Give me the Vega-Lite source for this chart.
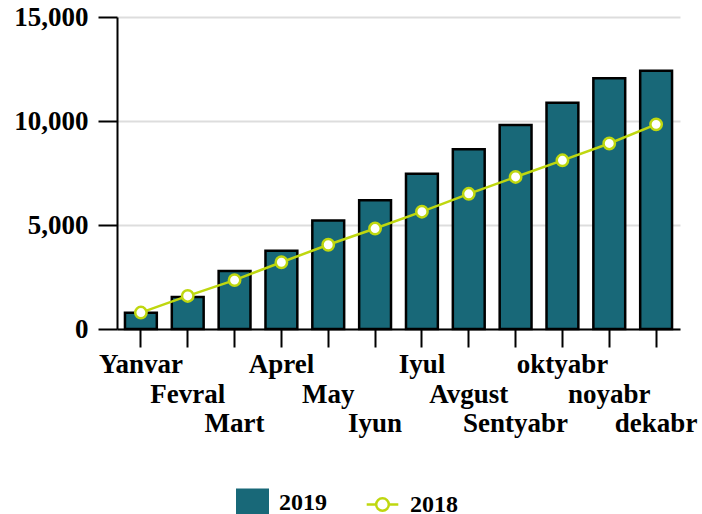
{
  "$schema": "https://vega.github.io/schema/vega-lite/v6.json",
  "autosize": {"type": "none"},
  "width": 563,
  "height": 312,
  "padding": {"left": 117, "top": 17, "right": 22, "bottom": 185},
  "background": "white",
  "config": {
    "view": {"stroke": null},
    "font": "Liberation Serif"
  },
  "data": {
    "values": [
      {"month": "Yanvar", "v2019": 780, "v2018": 790},
      {"month": "Fevral", "v2019": 1540, "v2018": 1590},
      {"month": "Mart", "v2019": 2790, "v2018": 2350},
      {"month": "Aprel", "v2019": 3760, "v2018": 3210},
      {"month": "May", "v2019": 5220, "v2018": 4050},
      {"month": "Iyun", "v2019": 6190, "v2018": 4830},
      {"month": "Iyul", "v2019": 7460, "v2018": 5640},
      {"month": "Avgust", "v2019": 8640, "v2018": 6500},
      {"month": "Sentyabr", "v2019": 9810, "v2018": 7310},
      {"month": "oktyabr", "v2019": 10880, "v2018": 8110},
      {"month": "noyabr", "v2019": 12050, "v2018": 8920},
      {"month": "dekabr", "v2019": 12420, "v2018": 9840}
    ]
  },
  "encoding": {
    "x": {
      "field": "month",
      "type": "nominal",
      "sort": null,
      "scale": {"paddingInner": 0.32, "paddingOuter": 0.17},
      "axis": {
        "title": null,
        "labelAngle": 0,
        "labelFont": "Liberation Serif",
        "labelFontWeight": "bold",
        "labelFontSize": 27,
        "labelColor": "black",
        "labelBaseline": "top",
        "labelPadding": {
          "condition": [
            {"test": "indexof(['Fevral','May','Avgust','noyabr'], datum.value) >= 0", "value": 34},
            {"test": "indexof(['Mart','Iyun','Sentyabr','dekabr'], datum.value) >= 0", "value": 63}
          ],
          "value": 4
        },
        "tickSize": 18,
        "tickWidth": 2,
        "tickColor": "black",
        "domainColor": "black",
        "domainWidth": 2,
        "labelOverlap": false,
        "labelBound": false,
        "labelFlush": false
      }
    }
  },
  "layer": [
    {
      "mark": {"type": "bar", "stroke": "black", "strokeWidth": 2.5},
      "encoding": {
        "y": {
          "field": "v2019",
          "type": "quantitative",
          "scale": {"domain": [0, 15000], "nice": false},
          "axis": {
            "title": null,
            "values": [0, 5000, 10000, 15000],
            "format": ",.0f",
            "labelFont": "Liberation Serif",
            "labelFontWeight": "bold",
            "labelFontSize": 27,
            "labelColor": "black",
            "labelPadding": 10,
            "tickSize": 19,
            "tickWidth": 2,
            "tickColor": "black",
            "domainColor": "black",
            "domainWidth": 2,
            "gridColor": "#dddddd",
            "gridWidth": 2
          }
        },
        "fill": {
          "datum": "2019",
          "type": "nominal",
          "scale": {"domain": ["2019"], "range": ["#186878"]},
          "legend": {
            "title": null,
            "orient": "none",
            "legendX": 119,
            "legendY": 469,
            "padding": 0,
            "symbolType": "M-1,-0.85H1V0.85H-1Z",
            "symbolSize": 1089,
            "symbolStrokeWidth": 0,
            "symbolOpacity": 1,
            "labelFont": "Liberation Serif",
            "labelFontWeight": "bold",
            "labelFontSize": 24,
            "labelColor": "black",
            "labelOffset": 10
          }
        }
      }
    },
    {
      "mark": {"type": "line", "strokeWidth": 2.5},
      "encoding": {
        "y": {"field": "v2018", "type": "quantitative"},
        "stroke": {
          "datum": "2018",
          "type": "nominal",
          "scale": {"domain": ["2018"], "range": ["#bfd70f"]},
          "legend": {
            "title": null,
            "orient": "none",
            "legendX": 248,
            "legendY": 470,
            "padding": 0,
            "symbolType": "M-1,0H-0.4M0.4,0H1M-0.4,0A0.4,0.4 0 1,1 0.4,0A0.4,0.4 0 1,1 -0.4,0Z",
            "symbolSize": 1000,
            "symbolStrokeWidth": 2.5,
            "symbolFillColor": "white",
            "symbolOpacity": 1,
            "labelFont": "Liberation Serif",
            "labelFontWeight": "bold",
            "labelFontSize": 24,
            "labelColor": "black",
            "labelOffset": 10
          }
        }
      }
    },
    {
      "mark": {"type": "point", "filled": true, "fill": "white", "stroke": "#bfd70f", "strokeWidth": 2.5, "size": 130, "opacity": 1},
      "encoding": {
        "y": {"field": "v2018", "type": "quantitative"}
      }
    }
  ]
}
